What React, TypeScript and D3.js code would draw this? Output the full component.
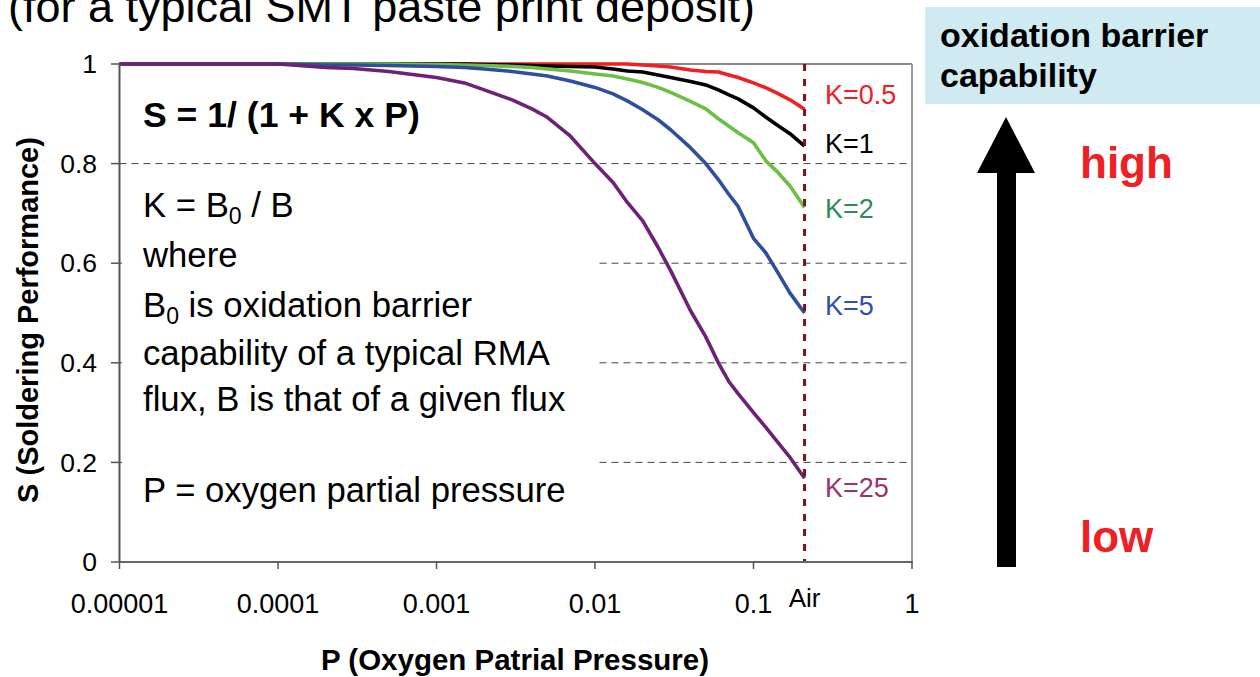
import React from "react";
import * as d3 from "d3";

const pressures = [0.00001, 0.00002, 0.00003, 0.00005, 0.0001, 0.0002, 0.0003, 0.0005, 0.001, 0.0015, 0.002, 0.003, 0.004, 0.005, 0.007, 0.01, 0.013, 0.016, 0.02, 0.025, 0.03, 0.04, 0.05, 0.06, 0.07, 0.08, 0.1, 0.12, 0.14, 0.17, 0.21];

const sK05 = [1, 1, 1, 1, 1, 1, 1, 1, 1, 1, 1, 1, 1, 1, 1, 1, 1, 1, 0.998, 0.996, 0.994, 0.988, 0.985, 0.984, 0.978, 0.973, 0.962, 0.952, 0.942, 0.928, 0.909];
const sK1 = [1, 1, 1, 1, 1, 1, 1, 1, 1, 1, 0.999, 0.998, 0.997, 0.996, 0.995, 0.994, 0.99, 0.986, 0.984, 0.978, 0.973, 0.965, 0.958, 0.948, 0.938, 0.93, 0.912, 0.893, 0.878, 0.86, 0.835];
const sK2 = [1, 1, 1, 1, 1, 1, 1, 1, 0.999, 0.998, 0.997, 0.995, 0.993, 0.99, 0.986, 0.98, 0.976, 0.97, 0.963, 0.953, 0.943, 0.925, 0.91, 0.89, 0.875, 0.862, 0.842, 0.805, 0.785, 0.755, 0.712];
const sK5 = [1, 1, 1, 1, 1, 0.998, 0.998, 0.997, 0.995, 0.993, 0.99, 0.985, 0.98, 0.976, 0.966, 0.953, 0.94, 0.926, 0.908, 0.888, 0.868, 0.832, 0.8, 0.768, 0.738, 0.714, 0.65, 0.62, 0.585, 0.54, 0.5];
const sK25 = [1, 1, 1, 1, 1, 0.993, 0.991, 0.985, 0.973, 0.962, 0.948, 0.928, 0.91, 0.893, 0.855, 0.8, 0.762, 0.722, 0.685, 0.632, 0.585, 0.505, 0.452, 0.4, 0.362, 0.338, 0.3, 0.27, 0.243, 0.21, 0.168];

const seriesNames = ["K=0.5", "K=1", "K=2", "K=5", "K=25"];
const seriesValues = [sK05, sK1, sK2, sK5, sK25];

const xTicks = [0.00001, 0.0001, 0.001, 0.01, 0.1, 1];
const xTickLabels = ["0.00001", "0.0001", "0.001", "0.01", "0.1", "1"];
const yTicks = [0, 0.2, 0.4, 0.6, 0.8, 1];
const yTickLabels = ["0", "0.2", "0.4", "0.6", "0.8", "1"];
const airPressure = 0.21;

// styles
const lineColors = ["#EE2024", "#000000", "#6CBE45", "#2E4E9E", "#6E2277"];
const labelColors = ["#EE2024", "#000000", "#2E8B5A", "#3050B0", "#9B3370"];
const labelDy = [-5.5, 7, 11, 2, 19];
const FONT = "'Liberation Sans', Arial, Helvetica, sans-serif";

export default function App() {
  const x = d3.scaleLog().domain([1e-5, 1]).range([119.5, 912]);
  const y = d3.scaleLinear().domain([0, 1]).range([562, 64]);
  const line = d3
    .line<number>()
    .x((_, i) => x(pressures[i]))
    .y((d) => y(d));
  const xAir = x(airPressure);

  return (
    <svg
      width={1260}
      height={677}
      viewBox="0 0 1260 677"
      style={{ position: "absolute", left: 0, top: 0, background: "#fff" }}
      fontFamily={FONT}
    >
      {/* partially cut title (cropped in the reference as well) */}
      <text x={8} y={22} fontSize={45} fill="#000">
        (for a typical SMT paste print deposit)
      </text>

      {/* gridlines */}
      {yTicks
        .filter((t) => t > 0 && t < 1)
        .map((t) => (
          <line
            key={t}
            x1={x(1e-5)}
            x2={x(1)}
            y1={y(t)}
            y2={y(t)}
            stroke="#444"
            strokeWidth={1}
            strokeDasharray="7,5"
          />
        ))}

      {/* white text box */}
      <rect x={122} y={178} width={475} height={352} fill="#fff" />

      {/* plot frame */}
      <line x1={x(1e-5)} x2={x(1)} y1={y(1)} y2={y(1)} stroke="#8a8a8a" strokeWidth={2} />
      <line x1={x(1)} x2={x(1)} y1={y(1)} y2={y(0)} stroke="#9a9a9a" strokeWidth={2} />

      {/* series */}
      {seriesValues.map((vals, i) => (
        <path
          key={seriesNames[i]}
          d={line(vals) || ""}
          fill="none"
          stroke={lineColors[i]}
          strokeWidth={3.6}
          strokeLinejoin="round"
          strokeLinecap="butt"
        />
      ))}

      {/* air line */}
      <line
        x1={xAir}
        x2={xAir}
        y1={y(1)}
        y2={y(0)}
        stroke="#7B1416"
        strokeWidth={3}
        strokeDasharray="7,8"
      />

      {/* axes */}
      <line x1={x(1e-5)} x2={x(1e-5)} y1={y(1) - 1} y2={y(0)} stroke="#555" strokeWidth={2} />
      <line x1={x(1e-5)} x2={x(1) + 1} y1={y(0)} y2={y(0)} stroke="#666" strokeWidth={2} />
      {yTicks.map((t, i) => (
        <g key={"yt" + t}>
          <line x1={111} x2={x(1e-5)} y1={y(t)} y2={y(t)} stroke="#555" strokeWidth={1.5} />
          <text x={97} y={y(t)} dy="0.35em" textAnchor="end" fontSize={26.5} fill="#000">
            {yTickLabels[i]}
          </text>
        </g>
      ))}
      {xTicks.map((t, i) => (
        <g key={"xt" + t}>
          <line x1={x(t)} x2={x(t)} y1={y(0)} y2={y(0) + 7} stroke="#555" strokeWidth={1.5} />
          <text x={x(t)} y={613} textAnchor="middle" fontSize={27} fill="#000">
            {xTickLabels[i]}
          </text>
        </g>
      ))}
      <text x={xAir} y={607} textAnchor="middle" fontSize={26} fill="#000">
        Air
      </text>

      {/* series labels */}
      {seriesNames.map((n, i) => {
        const vals = seriesValues[i];
        return (
          <text
            key={"lbl" + n}
            x={825}
            y={y(vals[vals.length - 1]) + labelDy[i]}
            fontSize={27}
            fill={labelColors[i]}
          >
            {n}
          </text>
        );
      })}

      {/* axis titles */}
      <text x={515} y={670} textAnchor="middle" fontSize={29.5} fontWeight="bold" fill="#000">
        P (Oxygen Patrial Pressure)
      </text>
      <text
        transform="translate(38,320) rotate(-90)"
        textAnchor="middle"
        fontSize={29}
        fontWeight="bold"
        fill="#000"
      >
        S (Soldering Performance)
      </text>

      {/* annotation text */}
      <text x={143} y={127} fontSize={35.6} fontWeight="bold" fill="#000">
        S = 1/ (1 + K x P)
      </text>
      <g fontSize={34.7} fill="#000">
        <text x={143} y={217}>
          K = B<tspan fontSize={23} dy={7}>0</tspan>
          <tspan dy={-7}> / B</tspan>
        </text>
        <text x={143} y={267}>where</text>
        <text x={143} y={317}>
          B<tspan fontSize={23} dy={7}>0</tspan>
          <tspan dy={-7}> is oxidation barrier</tspan>
        </text>
        <text x={143} y={365}>capability of a typical RMA</text>
        <text x={143} y={411}>flux, B is that of a given flux</text>
        <text x={143} y={502}>P = oxygen partial pressure</text>
      </g>

      {/* right side legend */}
      <rect x={925} y={7} width={335} height={97} fill="#CFEAF0" />
      <text x={940} y={47} fontSize={34} fontWeight="bold" fill="#000">
        oxidation barrier
      </text>
      <text x={940} y={87} fontSize={34} fontWeight="bold" fill="#000">
        capability
      </text>
      <path
        d="M1006,117 L1035,173 L1016,173 L1016,567 L997,567 L997,173 L977,173 Z"
        fill="#000"
      />
      <text x={1080} y={178} fontSize={44} fontWeight="bold" fill="#EE2024">
        high
      </text>
      <text x={1080} y={552} fontSize={44} fontWeight="bold" fill="#EE2024">
        low
      </text>
    </svg>
  );
}
